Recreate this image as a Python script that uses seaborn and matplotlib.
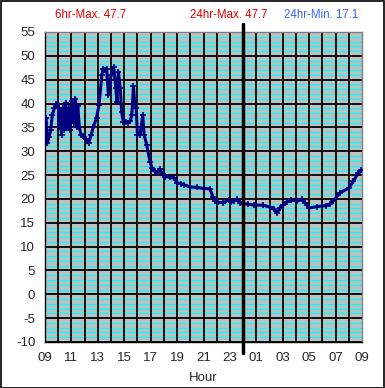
import matplotlib
matplotlib.use("Agg")
import matplotlib.pyplot as plt
import seaborn as sns
import pandas as pd
from matplotlib.patches import Rectangle
from matplotlib.ticker import MultipleLocator

# ---- data (hours since 09:00 as 9..33, temperature) ----
hours = [9.00, 9.08, 9.17, 9.30, 9.43, 9.55, 9.70, 9.85, 10.00, 10.08, 10.15, 10.25,
         10.35, 10.45, 10.57, 10.68, 10.80, 10.90, 11.07, 11.17, 11.30, 11.40, 11.48,
         11.60, 11.72, 11.90, 12.08, 12.30, 12.50, 12.66, 12.90, 13.09, 13.30, 13.40,
         13.55, 13.67, 13.80, 14.00, 14.20, 14.36, 14.45, 14.55, 14.70, 14.80, 14.93,
         15.10, 15.30, 15.45, 15.57, 15.70, 15.78, 15.90, 16.00, 16.20, 16.40, 16.50,
         16.70, 16.95, 17.10, 17.30, 17.45, 17.70, 17.90, 18.10, 18.50, 18.75, 19.00,
         19.30, 19.50, 20.00, 20.50, 21.00, 21.50, 21.70, 21.90, 22.10, 22.50, 22.90,
         23.10, 23.30, 23.50, 23.80, 24.00, 24.40, 24.80, 25.50, 26.00, 26.30, 26.55,
         26.80, 27.05, 27.30, 27.60, 28.10, 28.45, 28.70, 29.00, 29.60, 30.30, 30.60,
         30.80, 31.35, 32.00, 32.35, 32.70, 32.90]
temps = [36.0, 37.0, 31.7, 33.0, 34.5, 37.5, 39.0, 39.8, 40.0, 35.0, 38.5, 33.5,
         39.0, 34.5, 40.2, 35.0, 39.0, 34.5, 40.5, 36.0, 41.0, 35.0, 39.5,
         35.0, 33.5, 33.2, 32.6, 31.7, 33.5, 35.1, 37.0, 39.7, 45.9, 47.3,
         47.0, 47.2, 41.8, 45.9, 47.7, 43.2, 40.4, 46.7, 43.2, 38.3, 36.2,
         36.2, 36.0, 36.3, 37.6, 43.6, 40.4, 39.0, 33.5, 33.4, 37.6, 33.5,
         31.3, 27.8, 26.5, 25.8, 25.5, 26.3, 25.3, 24.7, 24.5, 24.4, 23.4,
         23.2, 23.0, 22.5, 22.4, 22.2, 22.1, 20.5, 19.6, 19.3, 19.2, 19.8,
         19.3, 19.6, 19.9, 19.2, 19.0, 18.9, 18.7, 18.7, 18.3, 17.9, 17.1,
         18.0, 18.8, 19.4, 19.8, 19.5, 19.9, 19.2, 18.1, 18.4, 18.6, 19.0,
         19.5, 21.3, 22.3, 23.7, 25.4, 26.0]

x_tick_values = list(range(9, 34, 2))
x_tick_labels = ["09", "11", "13", "15", "17", "19", "21", "23",
                 "01", "03", "05", "07", "09"]
y_ticks = list(range(-10, 56, 5))

header_texts = ["6hr-Max. 47.7", "24hr-Max. 47.7", "24hr-Min. 17.1"]

df = pd.DataFrame({"hour": hours, "temp": temps})

sns.set_style("white")
plt.rcParams["font.family"] = ["Liberation Sans", "DejaVu Sans"]

fig = plt.figure(figsize=(3.85, 3.88), dpi=100)
ax = fig.add_axes([45 / 385, 1 - 342 / 388, 317 / 385, 310 / 388])
ax.set_facecolor("#C0C0C0")

ax.set_xlim(9, 33)
ax.set_ylim(-10, 55)
ax.grid(False)

# minor cyan lines every 1 unit, black every 5 units and every hour
for v in range(-10, 56):
    if v % 5 == 0:
        ax.axhline(v, color="black", linewidth=1.3, linestyle="-", zorder=1)
    else:
        ax.axhline(v, color="#00FFFF", linewidth=0.9, linestyle="-", zorder=0.5)
for h in range(10, 33):
    ax.axvline(h, color="black", linewidth=1.3, linestyle="-", zorder=1)

sns.lineplot(data=df, x="hour", y="temp", ax=ax, color="#000080",
             linewidth=2.2, marker="+", markersize=4, markeredgewidth=1.2,
             markeredgecolor="#000080", zorder=3)

# midnight line
ax.axvline(24, ymin=-0.035, ymax=1.026, color="black", linewidth=2.5,
           clip_on=False, zorder=4)

ax.set_xticks(x_tick_values)
ax.set_xticklabels(x_tick_labels)
ax.xaxis.set_minor_locator(MultipleLocator(1))
ax.set_yticks(y_ticks)
ax.set_yticklabels([str(v) for v in y_ticks])
ax.tick_params(axis="both", which="major", labelsize=9.5, length=4,
               width=1, color="black", direction="out", pad=3)
ax.tick_params(axis="x", which="minor", length=4, width=1, color="black",
               direction="out")
ax.set_xlabel("Hour", fontsize=9.5, labelpad=6)
ax.set_ylabel("")

for side in ["left", "bottom"]:
    ax.spines[side].set_color("black")
    ax.spines[side].set_linewidth(1)
for side in ["top", "right"]:
    ax.spines[side].set_color("#808080")
    ax.spines[side].set_linewidth(1)

# header texts
fig.text(55 / 385, 1 - 15 / 388, header_texts[0], color="#E00000",
         fontsize=8.3, ha="left", va="center")
fig.text(229 / 385, 1 - 15 / 388, header_texts[1], color="#E00000",
         fontsize=8.3, ha="center", va="center")
fig.text(358 / 385, 1 - 15 / 388, header_texts[2], color="#3366FF",
         fontsize=8.3, ha="right", va="center")

# figure border
fig.add_artist(Rectangle((0.5 / 385, 0.5 / 388), 383.5 / 385, 386.5 / 388,
                         transform=fig.transFigure, fill=False,
                         edgecolor="black", linewidth=1.2))

fig.savefig("out.png", dpi=100, facecolor="white")
